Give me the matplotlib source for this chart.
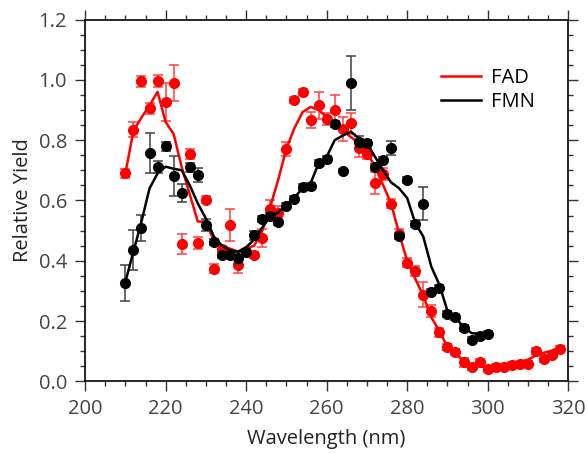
import numpy as np
import matplotlib
matplotlib.use("Agg")
import matplotlib.pyplot as plt
from matplotlib.ticker import MultipleLocator

# FAD data (210-318 nm, 2 nm steps)
fad_x = list(range(210, 320, 2))
fad_y = [0.69, 0.835, 0.995, 0.905, 0.995, 0.925, 0.99, 0.455, 0.755, 0.46,
         0.603, 0.374, 0.44, 0.518, 0.385, 0.43, 0.42, 0.474, 0.57, 0.56,
         0.77, 0.934, 0.96, 0.866, 0.916, 0.87, 0.9, 0.836, 0.856, 0.775,
         0.754, 0.658, 0.689, 0.589, 0.49, 0.393, 0.366, 0.287, 0.234, 0.163,
         0.115, 0.097, 0.064, 0.047, 0.065, 0.042, 0.049, 0.047, 0.055, 0.058,
         0.058, 0.102, 0.075, 0.089, 0.108]
fad_err = [0.015, 0.024, 0.018, 0.017, 0.02, 0.063, 0.06, 0.033, 0.016, 0.02,
           0.012, 0.015, 0.01, 0.053, 0.024, 0.01, 0.01, 0.03, 0.03, 0.02,
           0.023, 0.01, 0.01, 0.027, 0.045, 0.02, 0.049, 0.04, 0.034, 0.03,
           0.015, 0.036, 0.02, 0.015, 0.015, 0.015, 0.015, 0.041, 0.02, 0.015,
           0.01, 0.01, 0.015, 0.01, 0.01, 0.01, 0.01, 0.01, 0.01, 0.01,
           0.01, 0.01, 0.01, 0.01, 0.01]
fad_fit = [0.69, 0.83, 0.875, 0.915, 0.96, 0.86, 0.82, 0.71, 0.62, 0.53,
           0.53, 0.465, 0.45, 0.44, 0.43, 0.44, 0.45, 0.50, 0.58, 0.67,
           0.772, 0.84, 0.893, 0.91, 0.90, 0.877, 0.855, 0.833, 0.81, 0.79,
           0.76, 0.712, 0.652, 0.59, 0.49, 0.40, 0.34, 0.284, 0.212, 0.168,
           0.113, 0.091, 0.069, 0.053, 0.05, 0.047, 0.05, 0.053, 0.058, 0.065,
           0.072, 0.086, 0.095, 0.102, 0.115]

# FMN data (210-300 nm)
fmn_x = list(range(210, 302, 2))
fmn_y = [0.327, 0.436, 0.509, 0.758, 0.712, 0.78, 0.682, 0.624, 0.71, 0.685,
         0.52, 0.462, 0.419, 0.419, 0.41, 0.43, 0.484, 0.54, 0.55, 0.53,
         0.58, 0.604, 0.644, 0.647, 0.723, 0.737, 0.855, 0.698, 0.99, 0.795,
         0.792, 0.711, 0.733, 0.773, 0.481, 0.668, 0.522, 0.589, 0.295, 0.311,
         0.223, 0.212, 0.176, 0.138, 0.152, 0.157]
fmn_err = [0.06, 0.067, 0.044, 0.066, 0.02, 0.015, 0.067, 0.03, 0.015, 0.023,
           0.02, 0.01, 0.01, 0.01, 0.02, 0.01, 0.015, 0.01, 0.01, 0.01,
           0.01, 0.01, 0.01, 0.01, 0.01, 0.01, 0.01, 0.005, 0.09, 0.02,
           0.01, 0.01, 0.01, 0.023, 0.01, 0.01, 0.01, 0.054, 0.01, 0.01,
           0.01, 0.01, 0.01, 0.01, 0.01, 0.01]
fmn_fit = [0.33, 0.43, 0.53, 0.64, 0.69, 0.712, 0.705, 0.70, 0.65, 0.59,
           0.54, 0.48, 0.45, 0.435, 0.43, 0.445, 0.47, 0.51, 0.547, 0.56,
           0.586, 0.61, 0.64, 0.657, 0.723, 0.745, 0.80, 0.815, 0.828, 0.806,
           0.79, 0.745, 0.70, 0.66, 0.64, 0.608, 0.525, 0.48, 0.38, 0.32,
           0.234, 0.212, 0.18, 0.16, 0.157, 0.157]

plt.rcParams['font.family'] = ['Open Sans', 'DejaVu Sans']

fig = plt.figure(figsize=(5.87, 4.54), dpi=100)
ax = fig.add_axes([0.145, 0.16, 0.823, 0.797])

ax.errorbar(fad_x, fad_y, yerr=fad_err, fmt='o', color='#ff0000', ms=7,
            ecolor='#ff4040', elinewidth=1.1, capsize=3.6, capthick=1.1, zorder=2)
ax.plot(fad_x, fad_fit, color='#ff0000', lw=1.8, label='FAD', zorder=3)
ax.errorbar(fmn_x, fmn_y, yerr=fmn_err, fmt='o', color='black', ms=7,
            ecolor='#404040', elinewidth=1.1, capsize=3.6, capthick=1.1, zorder=4)
ax.plot(fmn_x, fmn_fit, color='black', lw=1.8, label='FMN', zorder=5)

ax.set_xlim(200, 320)
ax.set_ylim(0, 1.2)
ax.xaxis.set_major_locator(MultipleLocator(20))
ax.xaxis.set_minor_locator(MultipleLocator(5))
ax.yaxis.set_major_locator(MultipleLocator(0.2))
ax.yaxis.set_minor_locator(MultipleLocator(0.05))
ax.yaxis.set_major_formatter(plt.FormatStrFormatter('%.1f'))
ax.tick_params(which='both', direction='out', top=True, right=True,
               color='#333333', labelsize=14.5, labelcolor='#444444', pad=6)
ax.tick_params(which='major', length=7, width=1)
ax.tick_params(which='minor', length=3.6, width=1)
for s in ax.spines.values():
    s.set_linewidth(1.2)

ax.set_xlabel('Wavelength (nm)', fontsize=14.5, color='#222222', labelpad=7)
ax.set_ylabel('Relative Yield', fontsize=14.5, color='#222222', labelpad=4)

ax.legend(loc='upper left', frameon=False, fontsize=14.5, handlelength=2.0,
          handletextpad=0.5, labelspacing=0.2, borderpad=0,
          bbox_to_anchor=(0.716, 0.895))

fig.savefig('out.png', dpi=100)
